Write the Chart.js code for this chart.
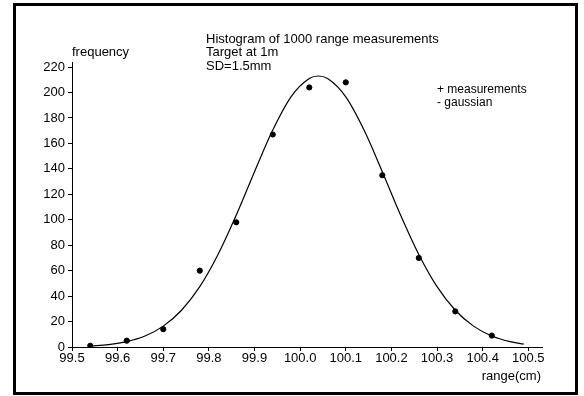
<!DOCTYPE html>
<html><head><meta charset="utf-8">
<script src="https://cdn.jsdelivr.net/npm/chart.js@4/dist/chart.umd.min.js"></script>
<style>html,body{margin:0;padding:0;background:#fff}#wrap{width:584px;height:396px;position:relative}</style>
</head><body><div id="wrap"><canvas id="c" width="584" height="396"></canvas></div>
<script>
// measured histogram
const rangeCm = [99.54, 99.62, 99.70, 99.78, 99.86, 99.94, 100.02, 100.10, 100.18, 100.26, 100.34, 100.42];
const frequency = [1, 5, 14, 60, 98, 167, 204, 208, 135, 70, 28, 9];
// gaussian curve
const curveX = [99.54, 99.58, 99.62, 99.66, 99.70, 99.74, 99.78, 99.82, 99.86, 99.90, 99.94, 99.98, 100.02, 100.04, 100.06, 100.10, 100.14, 100.18, 100.22, 100.26, 100.30, 100.34, 100.38, 100.42, 100.46, 100.49];
const curveY = [0.8, 1.9, 4.2, 8.6, 16.4, 28.9, 47.4, 72.7, 103.7, 137.8, 170.5, 196.6, 211, 213, 211, 196.6, 170.5, 137.8, 103.7, 72.7, 47.4, 28.9, 16.4, 8.6, 4.2, 2.3];
const xTicks = [99.5, 99.6, 99.7, 99.8, 99.9, 100.0, 100.1, 100.2, 100.3, 100.4, 100.5];
const yTicks = [0, 20, 40, 60, 80, 100, 120, 140, 160, 180, 200, 220];
const titleLines = ['Histogram of 1000 range measurements', 'Target at 1m', 'SD=1.5mm'];
const legendLines = ['+ measurements', '- gaussian'];
const yAxisTitle = 'frequency';
const xAxisTitle = 'range(cm)';

const FONT = '"Liberation Sans", Arial, sans-serif';

const textPlugin = {
  id: 'texts',
  afterDraw(chart) {
    const ctx = chart.ctx;
    ctx.save();
    ctx.strokeStyle = '#000';
    ctx.lineWidth = 3;
    ctx.strokeRect(14.5, 4.5, 562, 389);
    ctx.fillStyle = '#000';
    ctx.font = '13px ' + FONT;
    ctx.textBaseline = 'alphabetic';
    ctx.textAlign = 'left';
    titleLines.forEach((t, i) => ctx.fillText(t, 206, 43 + i * 13.3));
    ctx.fillText(yAxisTitle, 72, 56);
    ctx.font = '12px ' + FONT;
    legendLines.forEach((t, i) => ctx.fillText(t, 437, 93 + i * 13));
    ctx.font = '13px ' + FONT;
    ctx.textAlign = 'right';
    ctx.fillText(xAxisTitle, 541, 380);
    ctx.restore();
  }
};

new Chart(document.getElementById('c'), {
  type: 'scatter',
  data: {
    datasets: [
      {
        label: 'gaussian',
        data: curveX.map((x, i) => ({x, y: curveY[i]})),
        showLine: true,
        borderColor: '#000',
        borderWidth: 1.2,
        pointRadius: 0,
        cubicInterpolationMode: 'monotone',
        fill: false
      },
      {
        label: 'measurements',
        data: rangeCm.map((x, i) => ({x, y: frequency[i]})),
        showLine: false,
        pointStyle: 'circle',
        pointRadius: 2.6,
        backgroundColor: '#000',
        borderColor: '#000',
        borderWidth: 1
      }
    ]
  },
  options: {
    responsive: false,
    animation: false,
    devicePixelRatio: 1,
    layout: { padding: { left: 0, top: 62, right: 42, bottom: 19 } },
    plugins: { legend: { display: false }, tooltip: { enabled: false }, title: { display: false } },
    scales: {
      x: {
        type: 'linear',
        min: 99.5,
        max: 100.53,
        afterBuildTicks: (axis) => { axis.ticks = xTicks.map(v => ({value: v})); },
        afterFit: (axis) => { axis.height = 30; },
        grid: { drawOnChartArea: false, drawTicks: true, tickLength: 4, color: '#000', lineWidth: 1 },
        border: { color: '#000', width: 1 },
        ticks: {
          color: '#000', padding: 0, maxRotation: 0, autoSkip: false,
          font: { family: FONT, size: 13 },
          callback: (v) => Number(v).toFixed(1)
        }
      },
      y: {
        type: 'linear',
        min: 0,
        max: 224,
        afterBuildTicks: (axis) => { axis.ticks = yTicks.map(v => ({value: v})); },
        afterFit: (axis) => { axis.width = 72; },
        grid: { drawOnChartArea: false, drawTicks: true, tickLength: 4, color: '#000', lineWidth: 1 },
        border: { color: '#000', width: 1 },
        ticks: {
          color: '#000', padding: 3, autoSkip: false,
          font: { family: FONT, size: 13 },
          callback: (v) => String(v)
        }
      }
    }
  },
  plugins: [textPlugin]
});
</script></body></html>
